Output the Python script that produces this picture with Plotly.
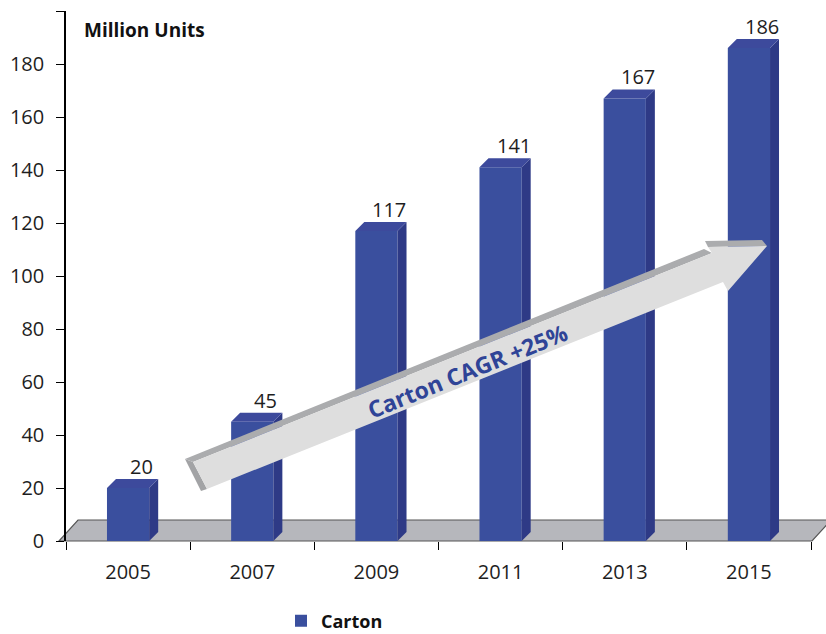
import plotly.graph_objects as go

# ---------------- data ----------------
years = ["2005", "2007", "2009", "2011", "2013", "2015"]
carton = [20, 45, 117, 141, 167, 186]
y_ticks = [0, 20, 40, 60, 80, 100, 120, 140, 160, 180, 200]
y_ticktext = ["0", "20", "40", "60", "80", "100", "120", "140", "160", "180", ""]
series_name = "Carton"
y_title = "Million Units"
cagr_text = "Carton CAGR +25%"

# ---------------- style ----------------
FRONT = "#3A4F9E"
SIDE = "#2E3A86"
TOP = "#3D4A9C"
FLOOR = "#B6B7BC"
FONT = "Open Sans"
TXT = "#1e1e1e"

W, H = 826, 634
ML, MR, MT, MB = 66, 15, 11, 93
PW, PH = W - ML - MR, H - MT - MB
YMAX = 200

def P(x, y):
    """pixel -> paper"""
    return (x - ML) / PW, (H - MB - y) / PH

def path_paper(pts):
    s = ""
    for i, (x, y) in enumerate(pts):
        px, py = P(x, y)
        s += ("M" if i == 0 else "L") + f"{px:.5f},{py:.5f} "
    return s + "Z"

def path_data(pts):
    s = ""
    for i, (x, y) in enumerate(pts):
        s += ("M" if i == 0 else "L") + f"{x:.5f},{y:.5f} "
    return s + "Z"

bar_w = 0.34
cat_px = PW / len(years)
dx = 9 / cat_px
dy = 9 / (PH / YMAX)

fig = go.Figure()
fig.add_trace(go.Bar(
    x=years, y=carton, width=bar_w, name=series_name,
    marker=dict(color=FRONT, line=dict(width=0)),
    showlegend=True, hoverinfo="x+y",
))

shapes = []
# floor (decoration)
shapes.append(dict(type="path", xref="paper", yref="paper", layer="below",
                   path=path_paper([(59, 541), (812, 541), (831, 520), (78, 520)]),
                   fillcolor=FLOOR, line=dict(color="#555555", width=1.2)))

# 3-D faces of the bars, computed from data
for i, v in enumerate(carton):
    l, r = i - bar_w / 2, i + bar_w / 2
    shapes.append(dict(type="path", xref="x", yref="y", layer="above",
                       path=path_data([(r, 0), (r + dx, dy), (r + dx, v + dy), (r, v)]),
                       fillcolor=SIDE, line=dict(width=0)))
    shapes.append(dict(type="path", xref="x", yref="y", layer="above",
                       path=path_data([(l, v), (l + dx, v + dy), (r + dx, v + dy), (r, v)]),
                       fillcolor=TOP, line=dict(width=0)))

# CAGR arrow (decoration, pixel geometry)
shapes.append(dict(type="path", xref="paper", yref="paper", layer="above",
                   path=path_paper([(185, 459), (193, 462), (207, 489), (201, 491)]),
                   fillcolor="#A2A3A5", line=dict(width=0)))
shapes.append(dict(type="path", xref="paper", yref="paper", layer="above",
                   path=path_paper([(185, 459), (704, 249), (712, 253), (193, 462)]),
                   fillcolor="#ABACAE", line=dict(width=0)))
shapes.append(dict(type="path", xref="paper", yref="paper", layer="above",
                   path=path_paper([(705, 241), (762, 240), (767, 246), (708, 247)]),
                   fillcolor="#ABACAE", line=dict(width=0)))
shapes.append(dict(type="path", xref="paper", yref="paper", layer="above",
                   path=path_paper([(193, 462), (712, 253), (708, 247), (767, 246),
                                    (728, 291), (723, 282), (207, 489)]),
                   fillcolor="#DEDEDE", line=dict(width=0)))

annotations = []
for i, v in enumerate(carton):
    annotations.append(dict(x=i, y=v, xref="x", yref="y", text=str(v),
                            showarrow=False, xshift=13, yshift=6, yanchor="bottom",
                            xanchor="center",
                            font=dict(family=FONT, size=20, color=TXT)))
px_, py_ = P(82, 30)
annotations.append(dict(x=px_, y=py_, xref="paper", yref="paper", text=f"<b>{y_title}</b>",
                        showarrow=False, xanchor="left", yanchor="middle",
                        font=dict(family=FONT, size=19, color="#111111")))
cx, cy = P(467, 371)
annotations.append(dict(x=cx, y=cy, xref="paper", yref="paper", text=f"<b>{cagr_text}</b>",
                        showarrow=False, textangle=-22, xanchor="center", yanchor="middle",
                        font=dict(family=FONT, size=23, color="#2F4497")))

lx = (281 - ML) / PW
fig.update_layout(
    width=W, height=H,
    margin=dict(l=ML, r=MR, t=MT, b=MB, pad=0, autoexpand=False),
    paper_bgcolor="white", plot_bgcolor="white",
    font=dict(family=FONT, color=TXT),
    shapes=shapes, annotations=annotations,
    showlegend=True,
    legend=dict(orientation="h", x=lx, y=(H - 621) / H, yref="container",
                xanchor="left", yanchor="middle",
                font=dict(family=FONT, size=18, color="#111111", weight="bold"),
                bgcolor="rgba(0,0,0,0)"),
    xaxis=dict(type="category", showgrid=False, zeroline=False, showline=False,
               ticks="outside", tickson="boundaries", ticklen=8, tickcolor="black",
               tickwidth=1.3, tickfont=dict(family=FONT, size=20, color=TXT),
               ticklabelstandoff=17,
               range=[-0.5, len(years) - 0.5], fixedrange=True, automargin=False),
    yaxis=dict(range=[0, YMAX], tickvals=y_ticks, ticktext=y_ticktext,
               showgrid=False, zeroline=False, showline=True, linecolor="black",
               linewidth=1.5, ticks="outside", ticklen=8, tickcolor="black", tickwidth=1.3,
               tickfont=dict(family=FONT, size=20, color=TXT), ticklabelstandoff=8,
               fixedrange=True, automargin=False),
)

fig.write_html("out.html")
